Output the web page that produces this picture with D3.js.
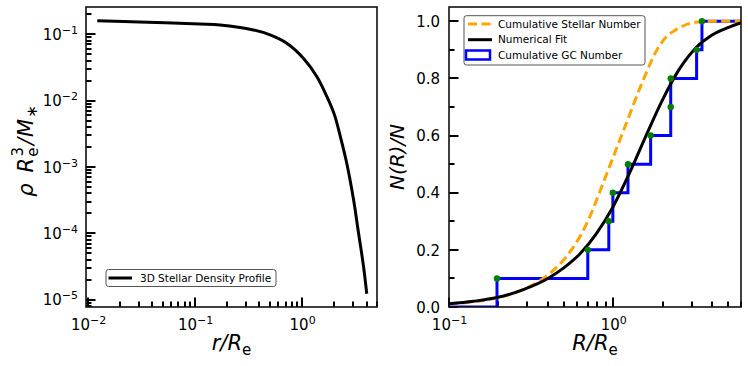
<!DOCTYPE html>
<html>
<head>
<meta charset="utf-8">
<script src="https://cdn.jsdelivr.net/npm/d3@7"></script>
<style>
  body { margin: 0; background: #fff; }
  text { font-family: "DejaVu Sans", sans-serif; }
</style>
</head>
<body>
<svg id="fig" width="748" height="366"></svg>
<script>
// ---- data ----
// left panel: 3D stellar density profile
var rhoR   = [0.0122, 0.03, 0.111, 0.171, 0.351, 0.502, 0.719, 1.028, 1.372, 1.70, 2.0, 2.3, 2.62, 3.02, 3.36, 3.74, 4.02];
var rhoVal = [0.160, 0.153, 0.1425, 0.1377, 0.116, 0.0977, 0.0733, 0.0436, 0.0231, 0.0116, 0.0062, 0.0027, 0.00112, 3.28e-4, 1.04e-4, 3.28e-5, 1.23e-5];

// right panel: cumulative stellar number (dashed), numerical fit, GC steps
var starR = [0.1, 0.15, 0.2, 0.25, 0.3, 0.35, 0.4, 0.45, 0.5, 0.55, 0.6, 0.7, 0.85, 1.0, 1.2, 1.5, 1.9, 2.1, 2.4, 3.2, 4.0, 6.0];
var starN = [0.011, 0.02, 0.033, 0.049, 0.068, 0.088, 0.112, 0.138, 0.165, 0.196, 0.228, 0.30, 0.42, 0.525, 0.642, 0.785, 0.912, 0.945, 0.97, 0.997, 1.0, 1.0];
var fitR  = [0.1, 0.141, 0.196, 0.286, 0.40, 0.50, 0.63, 0.79, 1.0, 1.26, 1.58, 2.0, 2.51, 3.16, 4.0, 5.0, 6.0];
var fitN  = [0.011, 0.020, 0.033, 0.062, 0.100, 0.137, 0.187, 0.257, 0.352, 0.47, 0.598, 0.726, 0.83, 0.905, 0.952, 0.978, 0.994];
var gcR   = [0.196, 0.70, 0.94, 0.995, 1.23, 1.69, 2.24, 2.24, 3.22, 3.47];
var gcN   = [0.1, 0.2, 0.3, 0.4, 0.5, 0.6, 0.7, 0.8, 0.9, 1.0];

// tick labels
var leftXTicks  = [0.01, 0.1, 1];
var leftXLabels = ["\u22122", "\u22121", "0"];
var leftYTicks  = [1e-5, 1e-4, 1e-3, 1e-2, 1e-1];
var leftYLabels = ["\u22125", "\u22124", "\u22123", "\u22122", "\u22121"];
var rightXTicks  = [0.1, 1];
var rightXLabels = ["\u22121", "0"];
var rightYTicks  = [0, 0.2, 0.4, 0.6, 0.8, 1.0];
var rightYLabels = ["0.0", "0.2", "0.4", "0.6", "0.8", "1.0"];
var rightYMinor  = [0.1, 0.3, 0.5, 0.7, 0.9];

var svg = d3.select("#fig");
var fs = 15; // tick label size

// minor ticks for log axes: 2..9 times each decade inside the domain
function logMinor(scale) {
  var dom = scale.domain(), out = [];
  for (var e = -7; e <= 2; e++) {
    for (var m = 2; m <= 9; m++) {
      var v = m * Math.pow(10, e);
      if (v >= Math.min(dom[0], dom[1]) && v <= Math.max(dom[0], dom[1])) out.push(v);
    }
  }
  return out;
}

// inward tick marks, drawn straight from the scale
function ticksX(scale, vals, y, len) {
  svg.append("g").selectAll("line").data(vals).enter().append("line")
    .attr("x1", function(d) { return Math.round(scale(d)); })
    .attr("x2", function(d) { return Math.round(scale(d)); })
    .attr("y1", y).attr("y2", y - len)
    .attr("stroke", "#000").attr("stroke-width", 2);
}
function ticksY(scale, vals, x, len) {
  svg.append("g").selectAll("line").data(vals).enter().append("line")
    .attr("y1", function(d) { return Math.round(scale(d)); })
    .attr("y2", function(d) { return Math.round(scale(d)); })
    .attr("x1", x).attr("x2", x + len)
    .attr("stroke", "#000").attr("stroke-width", 2);
}

// axis used only for the labels
function labelAxis(g) {
  g.select(".domain").remove();
  g.selectAll("line").remove();
  g.attr("font-family", null).attr("font-size", null);
}

// write "10" plus superscript into tick labels
function powLabels(g, labels, ticks) {
  g.selectAll("text").each(function(d) {
    var t = d3.select(this).text("").attr("fill", "#000").style("font-size", fs + "px");
    t.append("tspan").text("10");
    t.append("tspan").attr("dy", -6).style("font-size", "11px").text(labels[ticks.indexOf(d)]);
  });
}

// ================= LEFT PANEL =================
var L = {x0: 86, x1: 377, y0: 7, y1: 307};
var xL = d3.scaleLog().domain([Math.pow(10, -2.019), Math.pow(10, 0.70)]).range([L.x0, L.x1]);
var yL = d3.scaleLog().domain([Math.pow(10, -5.11), Math.pow(10, -0.59)]).range([L.y1, L.y0]);

ticksX(xL, logMinor(xL), L.y1, 5.5);
ticksX(xL, leftXTicks, L.y1, 9.5);
ticksY(yL, logMinor(yL), L.x0, 5.5);
ticksY(yL, leftYTicks, L.x0, 9.5);

var gxL = svg.append("g").attr("transform", "translate(0," + L.y1 + ")")
  .call(d3.axisBottom(xL).tickValues(leftXTicks).tickSize(0).tickPadding(12))
  .call(labelAxis);
powLabels(gxL, leftXLabels, leftXTicks);
gxL.selectAll("text").attr("dy", "0.71em");

var gyL = svg.append("g").attr("transform", "translate(" + L.x0 + ",0)")
  .call(d3.axisLeft(yL).tickValues(leftYTicks).tickSize(0).tickPadding(8))
  .call(labelAxis);
powLabels(gyL, leftYLabels, leftYTicks);
gyL.selectAll("text").attr("dy", "0.35em");

var rhoPts = rhoR.map(function(r, i) { return [r, rhoVal[i]]; });
svg.append("path")
  .datum(rhoPts)
  .attr("d", d3.line().x(function(d) { return xL(d[0]); }).y(function(d) { return yL(d[1]); }).curve(d3.curveCatmullRom))
  .attr("fill", "none").attr("stroke", "#000").attr("stroke-width", 3);

svg.append("rect").attr("x", L.x0).attr("y", L.y0).attr("width", L.x1 - L.x0).attr("height", L.y1 - L.y0)
  .attr("fill", "none").attr("stroke", "#111").attr("stroke-width", 1.6);

// legend
svg.append("rect").attr("x", 106).attr("y", 269.5).attr("width", 170).attr("height", 17).attr("rx", 2.5)
  .attr("fill", "#fff").attr("stroke", "#555").attr("stroke-width", 1);
svg.append("line").attr("x1", 108.5).attr("x2", 132).attr("y1", 278).attr("y2", 278)
  .attr("stroke", "#000").attr("stroke-width", 3);
svg.append("text").attr("x", 140).attr("y", 278).attr("dy", "0.35em").style("font-size", "10.5px")
  .text("3D Stellar Density Profile");

// axis labels
var xlabL = svg.append("text").attr("x", (L.x0 + L.x1) / 2).attr("y", 350).attr("text-anchor", "middle").style("font-size", "21px");
xlabL.append("tspan").style("font-style", "italic").text("r/R");
xlabL.append("tspan").attr("dy", 5).style("font-size", "15px").text("e");

var ylabL = svg.append("text").attr("transform", "translate(33,151) rotate(-90)").attr("text-anchor", "middle").style("font-size", "21px");
ylabL.append("tspan").style("font-style", "italic").text("\u03c1");
ylabL.append("tspan").attr("dx", 11).style("font-style", "italic").text("R");
ylabL.append("tspan").attr("dx", 1).attr("dy", 5).style("font-size", "15px").text("e");
ylabL.append("tspan").attr("dx", -9).attr("dy", -15).style("font-size", "15px").text("3");
ylabL.append("tspan").attr("dx", 2).attr("dy", 10).style("font-style", "italic").text("/");
ylabL.append("tspan").attr("dx", 1).style("font-style", "italic").text("M");
ylabL.append("tspan").attr("dx", 1).attr("dy", 4).style("font-size", "15px").style("font-style", "italic").text("\u2217");

// ================= RIGHT PANEL =================
var R = {x0: 449, x1: 741, y0: 7, y1: 307};
var xR = d3.scaleLog().domain([0.1, 6]).range([R.x0, R.x1]);
var yR = d3.scaleLinear().domain([0, 1.05]).range([R.y1, R.y0]);

ticksX(xR, logMinor(xR), R.y1, 5.5);
ticksX(xR, rightXTicks, R.y1, 9.5);
ticksY(yR, rightYMinor, R.x0, 5.5);
ticksY(yR, rightYTicks, R.x0, 9.5);

var gxR = svg.append("g").attr("transform", "translate(0," + R.y1 + ")")
  .call(d3.axisBottom(xR).tickValues(rightXTicks).tickSize(0).tickPadding(12))
  .call(labelAxis);
powLabels(gxR, rightXLabels, rightXTicks);
gxR.selectAll("text").attr("dy", "0.71em");

var gyR = svg.append("g").attr("transform", "translate(" + R.x0 + ",0)")
  .call(d3.axisLeft(yR).tickValues(rightYTicks).tickSize(0).tickPadding(9)
    .tickFormat(function(d, i) { return rightYLabels[i]; }))
  .call(labelAxis);
gyR.selectAll("text").attr("fill", "#000").attr("dy", "0.35em").style("font-size", fs + "px");

svg.append("clipPath").attr("id", "clipR").append("rect")
  .attr("x", R.x0).attr("y", R.y0).attr("width", R.x1 - R.x0).attr("height", R.y1 - R.y0);
var plotR = svg.append("g").attr("clip-path", "url(#clipR)");

// GC cumulative step
var stepPts = [[0.05, 0]].concat(gcR.map(function(r, i) { return [r, gcN[i]]; })).concat([[10, 1.0]]);
plotR.append("path").datum(stepPts)
  .attr("d", d3.line().x(function(d) { return xR(d[0]); }).y(function(d) { return yR(d[1]); }).curve(d3.curveStepAfter))
  .attr("fill", "none").attr("stroke", "#0000ff").attr("stroke-width", 3);

var lineR = d3.line().x(function(d) { return xR(d[0]); }).y(function(d) { return yR(d[1]); }).curve(d3.curveMonotoneX);
plotR.append("path").datum(starR.map(function(r, i) { return [r, starN[i]]; }))
  .attr("d", lineR).attr("fill", "none").attr("stroke", "#ffa500").attr("stroke-width", 3)
  .attr("stroke-dasharray", "9,4.5");
plotR.append("path").datum(fitR.map(function(r, i) { return [r, fitN[i]]; }))
  .attr("d", lineR).attr("fill", "none").attr("stroke", "#000").attr("stroke-width", 3);

plotR.selectAll("circle").data(gcR).enter().append("circle")
  .attr("cx", function(d) { return xR(d); })
  .attr("cy", function(d, i) { return yR(gcN[i]); })
  .attr("r", 3.2).attr("fill", "#008000");

svg.append("rect").attr("x", R.x0).attr("y", R.y0).attr("width", R.x1 - R.x0).attr("height", R.y1 - R.y0)
  .attr("fill", "none").attr("stroke", "#111").attr("stroke-width", 1.6);

// legend
svg.append("rect").attr("x", 464).attr("y", 15.7).attr("width", 181).attr("height", 49.3).attr("rx", 2.5)
  .attr("fill", "#fff").attr("stroke", "#555").attr("stroke-width", 1);
svg.append("line").attr("x1", 468).attr("x2", 492).attr("y1", 24).attr("y2", 24)
  .attr("stroke", "#ffa500").attr("stroke-width", 3).attr("stroke-dasharray", "9,4.5");
svg.append("line").attr("x1", 468).attr("x2", 492).attr("y1", 39.7).attr("y2", 39.7)
  .attr("stroke", "#000").attr("stroke-width", 3);
svg.append("rect").attr("x", 466).attr("y", 50.5).attr("width", 24).attr("height", 9)
  .attr("fill", "none").attr("stroke", "#0000ff").attr("stroke-width", 2.5);
var legTexts = ["Cumulative Stellar Number", "Numerical Fit", "Cumulative GC Number"];
svg.selectAll(".legR").data(legTexts).enter().append("text")
  .attr("x", 498).attr("y", function(d, i) { return 24 + i * 15.5; }).attr("dy", "0.35em")
  .style("font-size", "10.5px").text(function(d) { return d; });

// axis labels
var xlabR = svg.append("text").attr("x", (R.x0 + R.x1) / 2).attr("y", 350).attr("text-anchor", "middle").style("font-size", "21px");
xlabR.append("tspan").style("font-style", "italic").text("R/R");
xlabR.append("tspan").attr("dy", 5).style("font-size", "15px").text("e");

svg.append("text").attr("transform", "translate(404,157) rotate(-90)").attr("text-anchor", "middle")
  .style("font-size", "20px").style("font-style", "italic").text("N(R)/N");
</script>
</body>
</html>
